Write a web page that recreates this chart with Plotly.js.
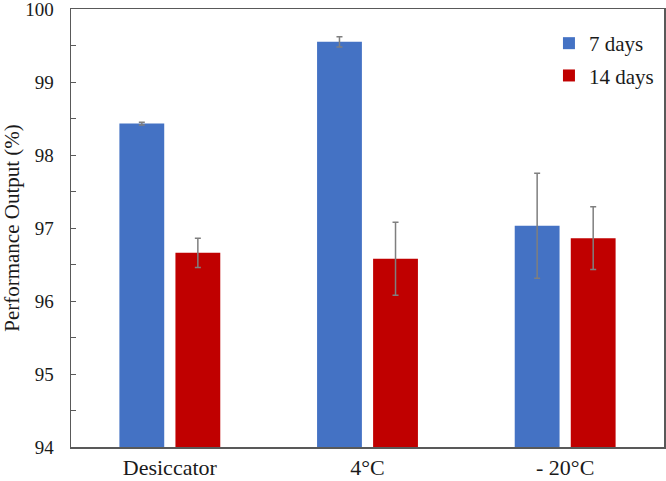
<!DOCTYPE html>
<html>
<head>
<meta charset="utf-8">
<script src="https://cdn.plot.ly/plotly-3.0.1.min.js"></script>
<style>html,body{margin:0;padding:0;background:#fff;}#chart{width:666px;height:481px;}</style>
</head>
<body>
<div id="chart"></div>
<script>
const categories = ["Desiccator", "4\u00B0C", "- 20\u00B0C"];
const days7 = [98.43, 99.55, 97.03];
const days7Err = [0.02, 0.07, 0.72];
const days14 = [96.66, 96.58, 96.86];
const days14Err = [0.2, 0.5, 0.43];
const seriesNames = ["7 days", "14 days"];
const yTicks = [94, 95, 96, 97, 98, 99, 100];

const errStyle = {color: "#7f7f7f", thickness: 1.5, width: 3};
const traces = [
  {type: "bar", name: seriesNames[0], legendgroup: "a", x: categories, y: days7,
   marker: {color: "#4472C4"},
   error_y: Object.assign({type: "data", array: days7Err, visible: true}, errStyle)},
  {type: "bar", name: seriesNames[1], legendgroup: "b", x: categories, y: days14,
   marker: {color: "#C00000"},
   error_y: Object.assign({type: "data", array: days14Err, visible: true}, errStyle)}
];

const serif = "Liberation Serif, Times New Roman, serif";
const txt = "#1a1a1a";
const layout = {
  width: 666, height: 481,
  margin: {l: 71, r: 2, t: 9, b: 34},
  paper_bgcolor: "#fff", plot_bgcolor: "#fff",
  barmode: "group", bargap: 0.433, bargroupgap: 0.2,
  font: {family: serif, size: 18, color: txt},
  showlegend: true,
  legend: {x: 0.806, xanchor: "left", y: 0.968, yanchor: "top",
           bgcolor: "rgba(0,0,0,0)", font: {family: serif, size: 21, color: txt},
           itemwidth: 30, tracegroupgap: 2},
  xaxis: {showline: true, linecolor: "#595959", linewidth: 1.5, mirror: true,
          ticks: "", showgrid: false, zeroline: false,
          tickfont: {family: serif, size: 22, color: txt}},
  yaxis: {range: [94, 100], tickvals: yTicks, showline: true, linecolor: "#595959",
          linewidth: 1.5, mirror: true, ticks: "inside", ticklen: 5, tickcolor: "#595959",
          showgrid: false, zeroline: false, ticklabelstandoff: 12, ticklabeloverflow: "allow",
          minor: {dtick: 0.5, ticks: "inside", ticklen: 5, tickcolor: "#595959", showgrid: false},
          tickfont: {family: serif, size: 19, color: txt},
          title: {text: "Performance Output (%)", standoff: 13, font: {family: serif, size: 21, color: txt}}}
};

Plotly.newPlot("chart", traces, layout, {displayModeBar: false, staticPlot: true});
</script>
</body>
</html>
